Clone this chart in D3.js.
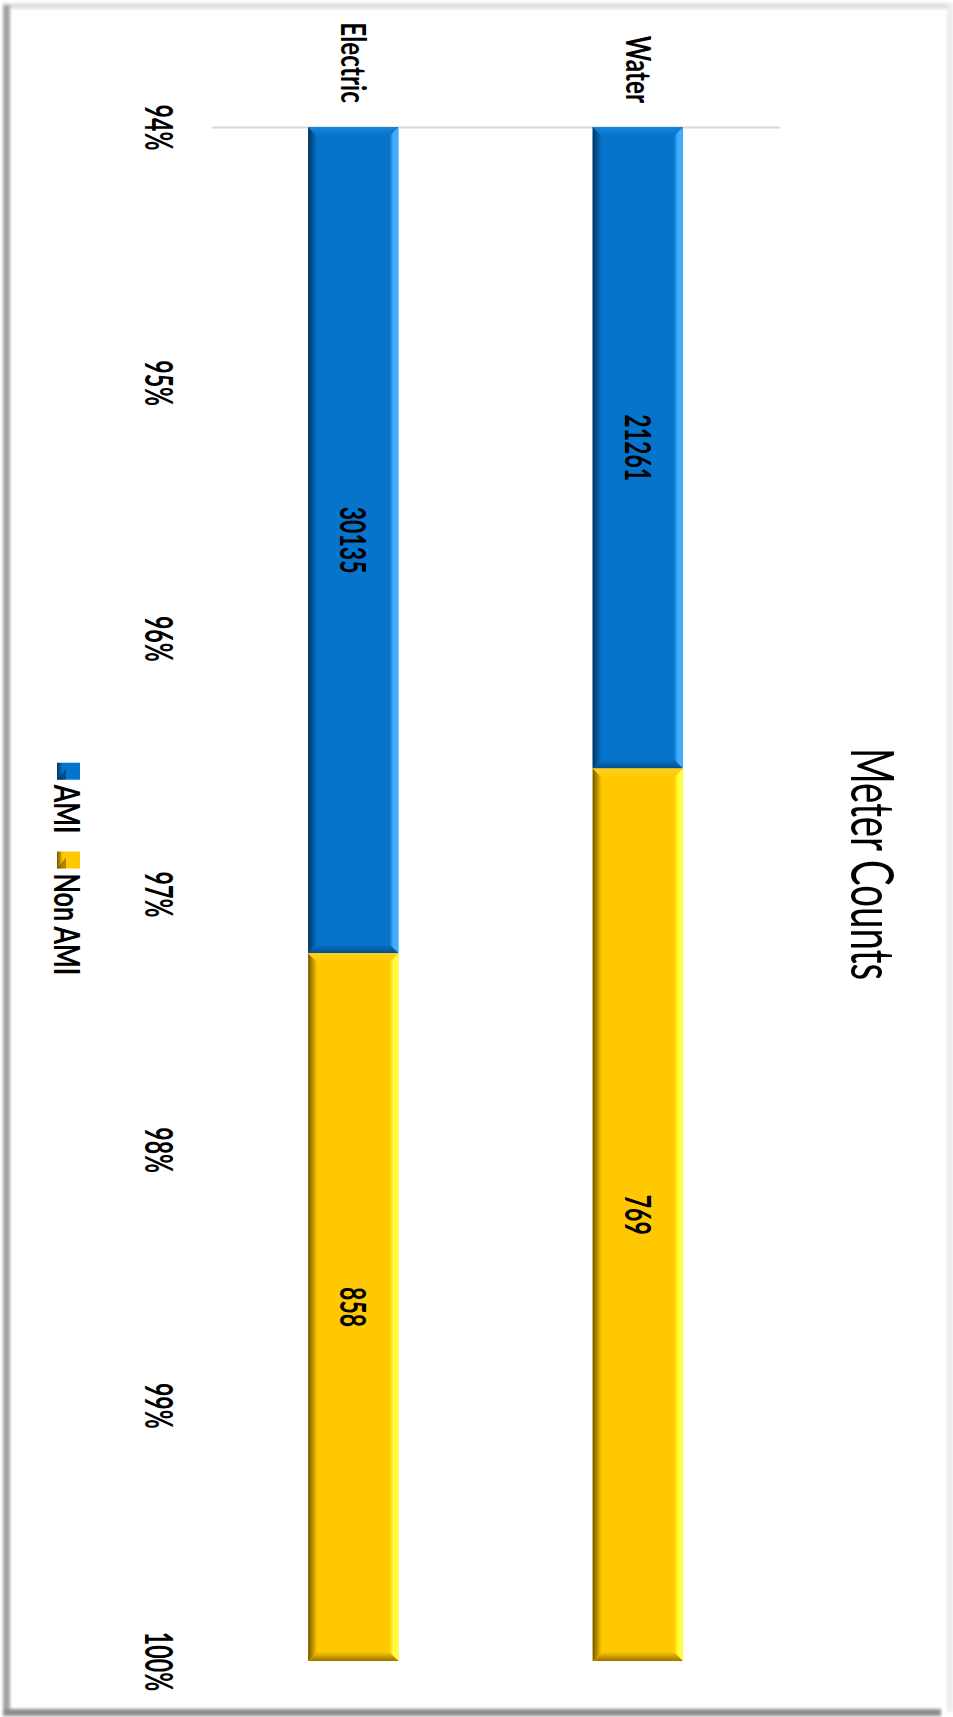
<!DOCTYPE html>
<html>
<head>
<meta charset="utf-8">
<script src="https://cdn.jsdelivr.net/npm/d3@7"></script>
<style>
  html, body { margin: 0; padding: 0; background: #fff; }
  svg { display: block; }
</style>
</head>
<body>
<svg id="chart" width="953" height="1717"></svg>
<script>
// ---- data ----
const categories = ["Electric", "Water"];
const seriesNames = ["AMI", "Non AMI"];
const amiCounts = [30135, 21261];
const nonAmiCounts = [858, 769];
const axisTicks = [0.94, 0.95, 0.96, 0.97, 0.98, 0.99, 1.00];
const chartTitle = "Meter Counts";

// ---- styling ----
const FONT = "Lato, 'Open Sans', 'Liberation Sans', sans-serif";
const palette = {
  "AMI":     { main: "#0774cc", dark: "#03355f", light: "#42adff", top: "#1684d9", bottom: "#044e8c" },
  "Non AMI": { main: "#ffc800", dark: "#735600", light: "#ffff3a", top: "#ffd11c", bottom: "#9a7300" }
};
const textStyle = {
  title:  { size: 60, weight: 400, k: 0.64 },
  tick:   { size: 38, weight: 700, k: 0.61 },
  cat:    { size: 34, weight: 700, k: 0.715 },
  value:  { size: 36, weight: 700, k: 0.64 },
  legend: { size: 36, weight: 700, k: 0.70 }
};

const svg = d3.select("#chart");
const defs = svg.append("defs");

// soft edge for the outer frame
defs.append("filter").attr("id", "soft")
  .attr("x", "-5%").attr("y", "-5%").attr("width", "110%").attr("height", "110%")
  .append("feGaussianBlur").attr("stdDeviation", 1.4);

// bevel gradients for each series
function grad(id, x1, y1, x2, y2, stops) {
  const g = defs.append("linearGradient").attr("id", id)
    .attr("x1", x1).attr("y1", y1).attr("x2", x2).attr("y2", y2);
  stops.forEach(([o, c]) => g.append("stop").attr("offset", o).attr("stop-color", c));
}
seriesNames.forEach((s, i) => {
  const p = palette[s];
  grad(`l${i}`, 0, 0, 1, 0, [[0, p.dark], [1, p.main]]);
  grad(`r${i}`, 0, 0, 1, 0, [[0, p.main], [0.45, p.light], [1, p.light]]);
  grad(`t${i}`, 0, 0, 0, 1, [[0, p.top], [1, p.main]]);
  grad(`b${i}`, 0, 0, 0, 1, [[0, p.main], [1, p.bottom]]);
  grad(`m${i}`, 0, 0, 1, 0, [[0, p.dark], [0.25, p.main], [1, p.main]]);
});

// ---- frame ----
const frame = svg.append("g").attr("filter", "url(#soft)");
frame.append("rect").attr("x", 3).attr("y", 3).attr("width", 950).attr("height", 6).attr("fill", "#e0e0e0");
frame.append("rect").attr("x", 947).attr("y", 3).attr("width", 6).attr("height", 1709).attr("fill", "#ebebeb");
frame.append("rect").attr("x", 3).attr("y", 5).attr("width", 7).attr("height", 1710).attr("fill", "#a3a3a3");
frame.append("rect").attr("x", 3).attr("y", 1709).attr("width", 938).attr("height", 7).attr("fill", "#8c8c8c");

// ---- scales ----
const x = d3.scaleBand().domain(categories).range([211, 780]);
const y = d3.scaleLinear().domain([axisTicks[0], axisTicks[axisTicks.length - 1]]).range([127, 1661]).clamp(true);
const barW = x.bandwidth() * 0.317;

// rotated, horizontally condensed text
function rot(sel, style) {
  sel.attr("font-family", FONT)
    .attr("font-size", style.size)
    .attr("font-weight", style.weight)
    .attr("fill", "#000")
    .attr("y", 0.36 * style.size);
  return sel;
}

// ---- category axis (line at the axis minimum) ----
const catAxis = svg.append("g")
  .attr("transform", `translate(0,${y.range()[0]})`)
  .call(d3.axisTop(x).tickSize(0).tickSizeOuter(0));
catAxis.select(".domain").attr("stroke", "#d9d9d9").attr("stroke-width", 2);
catAxis.selectAll(".tick text")
  .attr("x", null).attr("dy", null)
  .attr("text-anchor", "end")
  .attr("transform", `translate(0,-24) rotate(90) scale(${textStyle.cat.k},1)`)
  .call(rot, textStyle.cat);

// ---- value axis ----
const valAxis = svg.append("g")
  .attr("transform", "translate(159,0)")
  .call(d3.axisLeft(y).tickValues(axisTicks).tickFormat(d3.format(".0%")).tickSize(0));
valAxis.select(".domain").remove();
valAxis.selectAll(".tick text")
  .attr("x", null).attr("dy", null)
  .attr("text-anchor", "middle")
  .attr("transform", `rotate(90) scale(${textStyle.tick.k},1)`)
  .call(rot, textStyle.tick);

// ---- stacked 100% bars ----
const rows = categories.map((c, i) => ({ category: c, "AMI": amiCounts[i], "Non AMI": nonAmiCounts[i] }));
const stacked = d3.stack().keys(seriesNames).offset(d3.stackOffsetExpand)(rows);
const b = 9;

stacked.forEach((layer, si) => {
  const g = svg.append("g").attr("class", "series");
  layer.forEach(d => {
    const cx = x(d.data.category) + x.bandwidth() / 2;
    const x0 = cx - barW / 2, x1 = cx + barW / 2;
    const y0 = y(d[0]), y1 = y(d[1]);
    if (y1 - y0 < 1) return;
    const seg = g.append("g");
    seg.append("rect").attr("x", x0).attr("y", y0).attr("width", x1 - x0).attr("height", y1 - y0)
      .attr("fill", palette[layer.key].main);
    const poly = (pts, fill) => seg.append("polygon")
      .attr("points", pts.map(p => p.join(",")).join(" ")).attr("fill", fill);
    poly([[x0, y0], [x0 + b, y0 + b], [x0 + b, y1 - b], [x0, y1]], `url(#l${si})`);
    poly([[x1 - b, y0 + b], [x1, y0], [x1, y1], [x1 - b, y1 - b]], `url(#r${si})`);
    poly([[x0, y0], [x1, y0], [x1 - b, y0 + b], [x0 + b, y0 + b]], `url(#t${si})`);
    poly([[x0 + b, y1 - b], [x1 - b, y1 - b], [x1, y1], [x0, y1]], `url(#b${si})`);

    // value label in the middle of the visible segment
    svg.append("text")
      .attr("text-anchor", "middle")
      .attr("transform", `translate(${cx},${(y0 + y1) / 2}) rotate(90) scale(${textStyle.value.k},1)`)
      .text(d.data[layer.key])
      .call(rot, textStyle.value);
  });
});

// ---- title ----
svg.append("text")
  .attr("text-anchor", "middle")
  .attr("transform", `translate(873,864) rotate(90) scale(${textStyle.title.k},1)`)
  .text(chartTitle)
  .call(rot, textStyle.title);

// ---- legend ----
const legend = svg.append("g");
const legendX = 66.5, legendCY = 869, markLen = 17, markW = 23, gapMark = 5, gapItem = 18;
const items = seriesNames.map((s, i) => {
  const t = legend.append("text").text(s).call(rot, textStyle.legend);
  const len = t.node().getComputedTextLength() * textStyle.legend.k;
  return { s, i, t, len };
});
const total = d3.sum(items, d => markLen + gapMark + d.len) + gapItem * (items.length - 1);
let pos = legendCY - total / 2;
items.forEach(it => {
  const mx = legendX - 9.5;
  legend.append("rect").attr("x", mx).attr("y", pos).attr("width", markW).attr("height", markLen)
    .attr("fill", `url(#m${it.i})`);
  legend.append("polygon")
    .attr("points", `${mx},${pos + markLen} ${mx + 9},${pos + 6} ${mx + 9},${pos + markLen}`)
    .attr("fill", palette[it.s].dark).attr("opacity", 0.6);
  pos += markLen + gapMark;
  it.t.attr("text-anchor", "start")
    .attr("transform", `translate(${legendX},${pos}) rotate(90) scale(${textStyle.legend.k},1)`);
  pos += it.len + gapItem;
});
</script>
</body>
</html>
